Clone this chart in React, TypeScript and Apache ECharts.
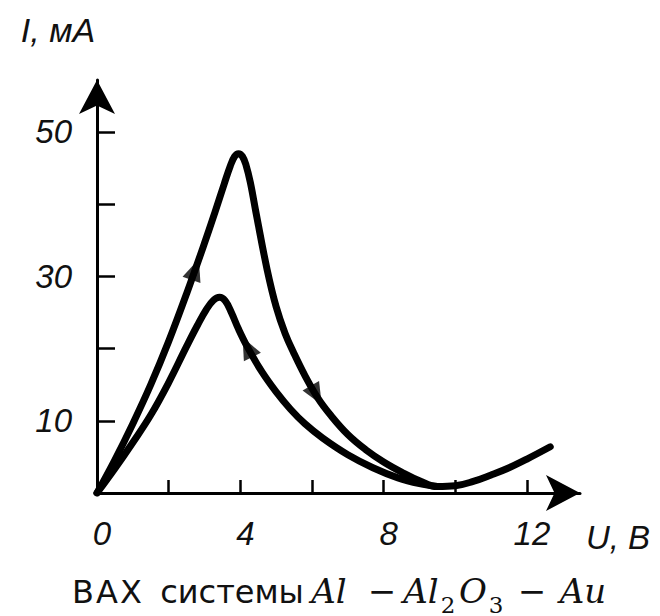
import { useEffect, useRef } from "react";
import * as echarts from "echarts";

// Forward branch (upper curve): U in volts, I in mA
const forwardU = [0, 0.5, 1, 1.5, 2, 2.5, 3, 3.3, 3.55, 3.72, 3.84, 3.95, 4.06, 4.16, 4.28, 4.45, 4.75, 5.0, 5.25, 5.5, 5.8, 6.17, 6.5, 7.0, 7.5, 8.0, 8.5, 9.0, 9.5, 10.0, 10.5, 11.0, 11.5, 12.0, 12.65];
const forwardI = [0, 4.6, 9.6, 15.0, 21.0, 27.6, 34.6, 39.0, 42.8, 45.3, 46.6, 47.0, 46.6, 45.4, 43.0, 38.5, 30.9, 25.8, 22.1, 19.3, 16.3, 13.1, 10.9, 8.1, 6.0, 4.3, 2.9, 1.7, 0.9, 1.0, 1.6, 2.5, 3.5, 4.7, 6.4];

// Backward branch (lower curve)
const backwardU = [0, 0.5, 1, 1.5, 2, 2.5, 2.8, 3.05, 3.25, 3.42, 3.58, 3.75, 3.95, 4.2, 4.6, 5.0, 5.4, 5.8, 6.3, 7.0, 7.7, 8.4, 9.0, 9.5];
const backwardI = [0, 3.4, 7.0, 10.8, 15.3, 20.3, 23.2, 25.4, 26.7, 27.1, 26.6, 25.0, 22.7, 20.2, 16.8, 14.0, 11.6, 9.6, 7.6, 5.3, 3.5, 2.1, 1.3, 0.9];

// Direction arrows (U positions on each branch)
const forwardArrowU = [2.74, 6.12];
const backwardArrowU = [4.2];

const xTickValues = [2, 4, 6, 8, 10, 12];
const xLabelValues = [0, 4, 8, 12];
const yTickValues = [10, 20, 30, 40, 50];
const yLabelValues = [10, 30, 50];

const W = 660;
const H = 616;
const GRID = { left: 97, right: 80, top: 80, bottom: 123 };
const X_MAX = 13.48;
const Y_MAX = 57.2;

function interp(us: number[], is: number[], u: number) {
  for (let k = 0; k < us.length - 1; k++) {
    if (u >= us[k] && u <= us[k + 1]) {
      const t = (u - us[k]) / (us[k + 1] - us[k]);
      return { i: is[k] + t * (is[k + 1] - is[k]), slope: (is[k + 1] - is[k]) / (us[k + 1] - us[k]) };
    }
  }
  return { i: is[is.length - 1], slope: 0 };
}

function arrowData(us: number[], is: number[], at: number[], sign: number) {
  const pxU = (W - GRID.left - GRID.right) / X_MAX;
  const pxI = (H - GRID.top - GRID.bottom) / Y_MAX;
  return at.map((u) => {
    const { i, slope } = interp(us, is, u);
    const theta = (Math.atan2(sign * slope * pxI, sign * pxU) * 180) / Math.PI;
    return { value: [u, i], symbolRotate: theta - 90 };
  });
}

export default function App() {
  const ref = useRef<HTMLDivElement>(null);
  useEffect(() => {
    document.body.style.margin = "0";
    const chart = echarts.init(ref.current!, null, { renderer: "svg" });
    const axisFont = { fontFamily: "Liberation Sans", fontStyle: "italic" as const, fontSize: 33, color: "#111" };
    const fwd = forwardU.map((u, k) => [u, forwardI[k]]);
    const bwd = backwardU.map((u, k) => [u, backwardI[k]]);
    const serif = { fontFamily: "DejaVu Serif", fill: "#111", align: "center" as const };
    const sans = { fontFamily: "DejaVu Sans", fontSize: 32, fill: "#111", align: "center" as const, verticalAlign: "middle" as const };
    const curveStyle = { color: "#000", width: 7, cap: "round", join: "round" };
    chart.setOption({
      animation: false,
      backgroundColor: "#fff",
      grid: GRID,
      xAxis: {
        type: "value",
        min: 0,
        max: X_MAX,
        splitLine: { show: false },
        axisLine: { lineStyle: { color: "#000", width: 3 }, symbol: ["none", "arrow"], symbolSize: [27, 34] },
        axisTick: { show: true, inside: true, length: 13, lineStyle: { color: "#000", width: 2.5 }, customValues: xTickValues },
        axisLabel: { ...axisFont, margin: 24, padding: [0, 0, 0, 10], customValues: xLabelValues },
      },
      yAxis: {
        type: "value",
        min: 0,
        max: Y_MAX,
        splitLine: { show: false },
        axisLine: { lineStyle: { color: "#000", width: 3 }, symbol: ["none", "arrow"], symbolSize: [27, 34] },
        axisTick: { show: true, inside: true, length: 18, lineStyle: { color: "#000", width: 2.5 }, customValues: yTickValues },
        axisLabel: { ...axisFont, margin: 25, padding: [18, 0, 0, 0], customValues: yLabelValues },
      },
      series: [
        { type: "line", data: fwd, smooth: 0.4, showSymbol: false, lineStyle: curveStyle },
        { type: "line", data: bwd, smooth: 0.4, showSymbol: false, lineStyle: curveStyle },
        {
          type: "scatter",
          symbol: "triangle",
          symbolSize: [19, 22],
          itemStyle: { color: "#000" },
          z: 5,
          data: [...arrowData(forwardU, forwardI, forwardArrowU, 1), ...arrowData(backwardU, backwardI, backwardArrowU, -1)],
        },
      ],
      graphic: [
        { type: "text", x: 58, y: 30, style: { text: "I, мА", ...axisFont, fontSize: 34, fill: "#111", align: "center", verticalAlign: "middle" } },
        { type: "text", x: 618, y: 537, style: { text: "U, B", ...axisFont, fill: "#111", align: "center", verticalAlign: "middle" } },
        { type: "text", x: 83, y: 592, style: { text: "В", ...sans } },
        { type: "text", x: 107, y: 592, style: { text: "А", ...sans } },
        { type: "text", x: 131, y: 592, style: { text: "Х", ...sans } },
        { type: "text", x: 232, y: 592, style: { text: "системы", ...sans } },
        { type: "text", x: 329, y: 591, style: { text: "Al", ...serif, fontStyle: "italic", fontSize: 34, verticalAlign: "middle" } },
        { type: "text", x: 382, y: 591, style: { text: "−", ...serif, fontSize: 34, verticalAlign: "middle" } },
        { type: "text", x: 421, y: 591, style: { text: "Al", ...serif, fontStyle: "italic", fontSize: 34, verticalAlign: "middle" } },
        { type: "text", x: 448, y: 616, style: { text: "2", ...serif, fontSize: 23, verticalAlign: "bottom" } },
        { type: "text", x: 473, y: 591, style: { text: "O", ...serif, fontStyle: "italic", fontSize: 34, verticalAlign: "middle" } },
        { type: "text", x: 496, y: 616, style: { text: "3", ...serif, fontSize: 23, verticalAlign: "bottom" } },
        { type: "text", x: 532, y: 591, style: { text: "−", ...serif, fontSize: 34, verticalAlign: "middle" } },
        { type: "text", x: 583, y: 591, style: { text: "Au", ...serif, fontStyle: "italic", fontSize: 34, verticalAlign: "middle" } },
      ],
    });
    return () => chart.dispose();
  }, []);
  return <div ref={ref} style={{ position: "fixed", left: 0, top: 0, width: W, height: H }} />;
}
